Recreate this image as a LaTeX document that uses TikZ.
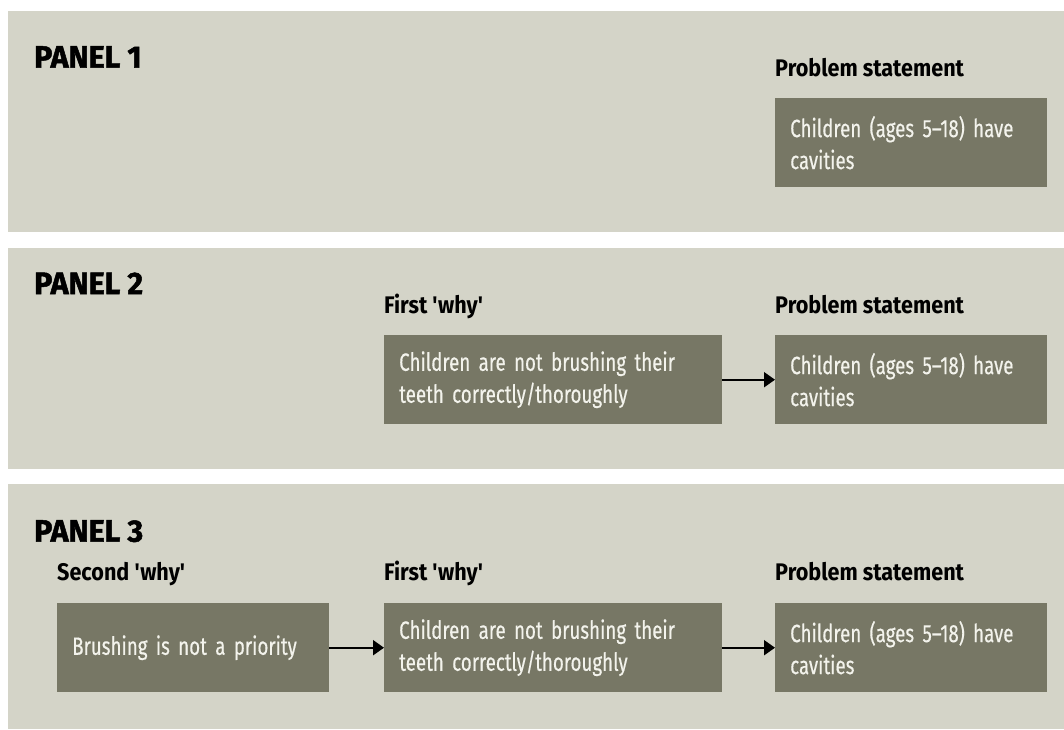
\documentclass[tikz,border=0pt]{standalone}
\usepackage{fontspec}
\setmainfont{Fira Sans}[FakeStretch=0.75, FakeBold=0.4]
\newfontfamily\headfont{Fira Sans}[FakeStretch=0.9]
\newfontfamily\panelfont{Fira Sans}[FakeStretch=0.98, BoldFeatures={FakeBold=1.6}]
\usetikzlibrary{arrows.meta,positioning}
\definecolor{panelbg}{RGB}{212,212,200}
\definecolor{boxfill}{RGB}{119,119,101}
\definecolor{boxtext}{RGB}{243,243,236}
\tikzstyle{panel} = [fill=panelbg]
\tikzstyle{whybox} = [rectangle, fill=boxfill, text=boxtext, anchor=north west,
    minimum width=272pt, minimum height=89pt, text width=242pt, inner xsep=15pt,
    align=left, font=\fontsize{25}{32}\selectfont]
\tikzstyle{heading} = [anchor=base west, inner sep=0pt, font=\headfont\bfseries\fontsize{24}{28}\selectfont]
\tikzstyle{title} = [anchor=base west, inner sep=0pt, font=\panelfont\bfseries\fontsize{31}{34}\selectfont]
\tikzstyle{line} = [draw, line width=2pt, -{Triangle[length=11pt, width=15pt]}]

\begin{document}
\begin{tikzpicture}[x=1pt, y=-1pt]
    \useasboundingbox (0,0) rectangle (1064,729);
    % Panels
    \path [panel] (8,11) rectangle (1064,232);
    \path [panel] (8,248) rectangle (1064,469);
    \path [panel] (8,484) rectangle (1064,729);
    % Place nodes
    \node [title] (t1) at (34,67.7) {PANEL 1};
    \node [heading] (h1c) at (775,76) {Problem statement};
    \node [whybox] (p1c) at (775,98) {Children (ages 5--18) have cavities};

    \node [title] (t2) at (34,294) {PANEL 2};
    \node [heading] (h2b) at (384,313) {First \textquotesingle why\textquotesingle};
    \node [heading] (h2c) at (775,313) {Problem statement};
    \node [whybox, minimum width=338pt, text width=308pt] (p2b) at (384,335) {Children are not brushing their teeth correctly/thoroughly};
    \node [whybox] (p2c) at (775,335) {Children (ages 5--18) have cavities};

    \node [title] (t3) at (34,541.7) {PANEL 3};
    \node [heading] (h3a) at (57,580.7) {Second \textquotesingle why\textquotesingle};
    \node [heading] (h3b) at (384,580.7) {First \textquotesingle why\textquotesingle};
    \node [heading] (h3c) at (775,580.7) {Problem statement};
    \node [whybox] (p3a) at (57,603) {Brushing is not a priority};
    \node [whybox, minimum width=338pt, text width=308pt] (p3b) at (384,603) {Children are not brushing their teeth correctly/thoroughly};
    \node [whybox] (p3c) at (775,603) {Children (ages 5--18) have cavities};
    % Draw edges
    \path [line] (p2b.east) -- (p2c.west);
    \path [line] (p3a.east) -- (p3b.west);
    \path [line] (p3b.east) -- (p3c.west);
\end{tikzpicture}
\end{document}
